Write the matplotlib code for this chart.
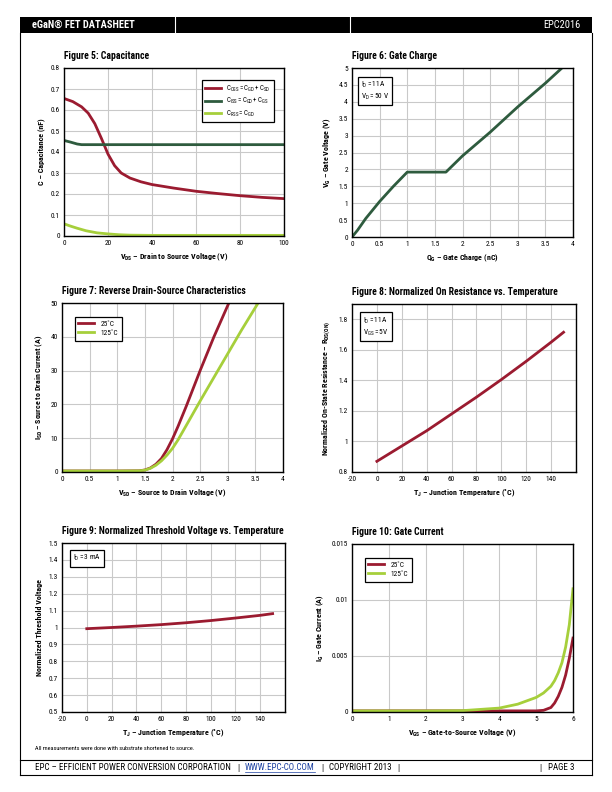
import matplotlib
matplotlib.use("Agg")
import matplotlib.pyplot as plt
from matplotlib import font_manager
from matplotlib.patches import Rectangle
from matplotlib.lines import Line2D

# pick a narrow font if there is one
installed = set(f.name for f in font_manager.fontManager.ttflist)
family = "DejaVu Sans"
for name in ["Liberation Sans Narrow", "DejaVu Sans Condensed", "Roboto Condensed", "Open Sans Condensed"]:
    if name in installed:
        family = name
        break
plt.rcParams['font.family'] = [family, "DejaVu Sans"]
plt.rcParams['mathtext.fontset'] = 'custom'
plt.rcParams['mathtext.rm'] = family
plt.rcParams['mathtext.it'] = family
plt.rcParams['mathtext.bf'] = family + ":bold"

RED = "#9b1b30"
GREEN = "#2e5b3e"
LIME = "#a6cf3b"
GRID = "#c9c9c9"

# Figure 5: Capacitance
vds = [0, 4, 8, 11, 14, 17, 20, 23, 26, 30, 35, 40, 50, 60, 70, 80, 90, 100]
coss = [0.655, 0.64, 0.615, 0.585, 0.535, 0.465, 0.39, 0.335, 0.3, 0.276, 0.258, 0.245, 0.228, 0.213, 0.202, 0.192, 0.184, 0.178]
vds_iss = [0, 3, 6, 8, 10, 20, 40, 60, 80, 100]
ciss = [0.455, 0.447, 0.438, 0.435, 0.435, 0.435, 0.435, 0.435, 0.435, 0.435]
vds_rss = [0, 3, 6, 10, 15, 20, 25, 30, 40, 60, 80, 100]
crss = [0.058, 0.047, 0.037, 0.025, 0.015, 0.01, 0.006, 0.004, 0.003, 0.003, 0.003, 0.003]

# Figure 6: Gate Charge
qg = [0, 0.1, 0.25, 0.5, 0.75, 1.0, 1.7, 2.0, 2.5, 3.0, 3.5, 3.8]
vg = [0, 0.2, 0.55, 1.05, 1.5, 1.92, 1.92, 2.4, 3.1, 3.85, 4.55, 5.0]

# Figure 7: Reverse Drain-Source Characteristics
vsd = [0, 0.5, 1.0, 1.4, 1.5, 1.6, 1.7, 1.8, 1.9, 2.0, 2.1, 2.25, 2.5, 2.75, 3.02]
isd_25 = [0.3, 0.3, 0.3, 0.35, 0.6, 1.2, 2.3, 4.0, 6.6, 9.8, 13.5, 19.5, 30, 40, 50]
vsd_125 = [0, 0.5, 1.0, 1.4, 1.5, 1.6, 1.7, 1.8, 1.9, 2.0, 2.1, 2.25, 2.5, 2.75, 3.0, 3.25, 3.55]
isd_125 = [0.3, 0.3, 0.3, 0.35, 0.55, 1.1, 2.0, 3.3, 5.0, 7.0, 9.5, 13.8, 21, 28, 35, 42, 50]

# Figure 8: Normalized On Resistance vs. Temperature
tj = [0, 20, 40, 60, 80, 100, 120, 140, 150]
rds = [0.87, 0.97, 1.07, 1.18, 1.29, 1.405, 1.525, 1.65, 1.715]

# Figure 9: Normalized Threshold Voltage vs. Temperature
vth = [0.993, 1.0, 1.008, 1.017, 1.028, 1.041, 1.056, 1.072, 1.082]

# Figure 10: Gate Current
vgs = [0, 1, 2, 3, 4, 4.5, 5.0, 5.2, 5.4, 5.5, 5.6, 5.7, 5.8, 5.9, 6.0]
ig_25 = [0.0001, 0.0001, 0.0001, 0.0001, 0.0001, 0.0001, 0.0001, 0.00015, 0.0004, 0.0008, 0.0014, 0.0022, 0.0033, 0.0048, 0.0066]
ig_125 = [0.0001, 0.0001, 0.0001, 0.00012, 0.00035, 0.0007, 0.0013, 0.0017, 0.0023, 0.0028, 0.0035, 0.0044, 0.0058, 0.0078, 0.011]

footer = ["EPC – EFFICIENT POWER CONVERSION CORPORATION", "|", "WWW.EPC-CO.COM", "|", "COPYRIGHT 2013", "|"]


def box(x0, y0, x1, y1):
    # page pixels -> figure fraction
    return [x0 / 612, 1 - y1 / 792, (x1 - x0) / 612, (y1 - y0) / 792]


def setup(ax, title, xlabel, ylabel, xlim, ylim, xticks, yticks, yfmt=None):
    ax.set_xlim(xlim)
    ax.set_ylim(ylim)
    ax.set_xticks(xticks)
    ax.set_yticks(yticks)
    if yfmt is not None:
        ax.set_yticklabels(yfmt)
    ax.set_xticklabels([("%g" % t) for t in xticks])
    ax.grid(True, color=GRID, lw=0.8)
    ax.set_axisbelow(True)
    ax.tick_params(labelsize=5.3, length=0, pad=3)
    for s in ax.spines.values():
        s.set_linewidth(1.0)
        s.set_color("black")
    ax.set_xlabel(xlabel, fontsize=5.8, fontweight="bold", labelpad=3)
    ax.set_ylabel(ylabel, fontsize=5.8, fontweight="bold", labelpad=4)
    ax.text(0.0, 1.04, title, transform=ax.transAxes, fontsize=7, fontweight="bold", ha="left", va="bottom")


def note(ax, text, x, y):
    ax.text(x, y, text, transform=ax.transAxes, fontsize=5.3, ha="left", va="top",
            bbox=dict(boxstyle="square,pad=0.45", fc="white", ec="black", lw=0.9), zorder=5)


def page_text(x, y, s, **kw):
    return fig.text(x / 612, 1 - y / 792, s, va="center", **kw)


fig = plt.figure(figsize=(6.12, 7.92), dpi=100)

# header bar
fig.patches.append(Rectangle((20 / 612, 1 - 33 / 792), 572 / 612, 16 / 792, transform=fig.transFigure, fc="black", ec="none"))
for x in [175, 350]:
    fig.add_artist(Line2D([x / 612, x / 612], [1 - 33 / 792, 1 - 17 / 792], color="white", lw=0.8))
page_text(32, 25, "eGaN® FET DATASHEET", color="white", fontsize=7.5, fontweight="bold")
page_text(580, 25, "EPC2016", color="white", fontsize=7.5, ha="right")

# page frame
for x in [20, 592]:
    fig.add_artist(Line2D([x / 612, x / 612], [1 - 775 / 792, 1 - 33 / 792], color="black", lw=0.8))
for y in [760, 775]:
    fig.add_artist(Line2D([20 / 612, 592 / 612], [1 - y / 792, 1 - y / 792], color="black", lw=0.8))

page_text(35, 749, "All measurements were done with substrate shortened to source.", fontsize=4.5)

# footer: lay the pieces one after another so they never collide
renderer = fig.canvas.get_renderer()
x = 35
for piece in footer:
    color = "#1a3fa0" if piece.startswith("WWW") else "black"
    t = page_text(x, 768, piece, fontsize=6.5, color=color)
    w = t.get_window_extent(renderer).width
    if piece.startswith("WWW"):
        fig.add_artist(Line2D([x / 612, (x + w) / 612], [1 - 772 / 792, 1 - 772 / 792], color=color, lw=0.5))
    x += w + 6
page_text(540, 768, "|", fontsize=6.5, ha="center")
page_text(575, 768, "PAGE 3", fontsize=6.5, ha="right")

lw = 2.0

# Figure 5
ax = fig.add_axes(box(64, 68, 284, 236))
ax.plot(vds, coss, color=RED, lw=lw, label=r"$\mathregular{C_{OSS} = C_{GD} + C_{SD}}$")
ax.plot(vds_iss, ciss, color=GREEN, lw=lw, label=r"$\mathregular{C_{ISS} = C_{GD} + C_{GS}}$")
ax.plot(vds_rss, crss, color=LIME, lw=lw, label=r"$\mathregular{C_{RSS} = C_{GD}}$")
setup(ax, "Figure 5: Capacitance", r"$\mathbf{V_{DS}}$ – Drain to Source Voltage (V)", "C – Capacitance (nF)",
      (0, 100), (0, 0.8), [0, 20, 40, 60, 80, 100], [i / 10 for i in range(9)],
      ["0", "0.1", "0.2", "0.3", "0.4", "0.5", "0.6", "0.7", "0.8"])
leg = ax.legend(loc="upper right", bbox_to_anchor=(0.97, 0.95), fontsize=5, fancybox=False, edgecolor="black",
                framealpha=1, handlelength=2.2, borderpad=0.5, labelspacing=0.35)
leg.get_frame().set_linewidth(0.9)

# Figure 6
ax = fig.add_axes(box(352, 68, 573, 237))
ax.plot(qg, vg, color=GREEN, lw=lw)
setup(ax, "Figure 6: Gate Charge", r"$\mathbf{Q_{G}}$ – Gate Charge (nC)", r"$\mathbf{V_{G}}$ – Gate Voltage (V)",
      (0, 4), (0, 5), [0, 0.5, 1, 1.5, 2, 2.5, 3, 3.5, 4], [0, 0.5, 1, 1.5, 2, 2.5, 3, 3.5, 4, 4.5, 5],
      ["0", "0.5", "1", "1.5", "2", "2.5", "3", "3.5", "4", "4.5", "5"])
note(ax, "$\\mathregular{I_D = 11A}$\n$\\mathregular{V_D = 50\\ V}$", 0.04, 0.93)

# Figure 7
ax = fig.add_axes(box(62, 303, 283, 472))
ax.plot(vsd, isd_25, color=RED, lw=lw, label="25˚C")
ax.plot(vsd_125, isd_125, color=LIME, lw=lw, label="125˚C")
setup(ax, "Figure 7: Reverse Drain-Source Characteristics", r"$\mathbf{V_{SD}}$ – Source to Drain Voltage (V)",
      r"$\mathbf{I_{SD}}$ – Source to Drain Current (A)",
      (0, 4), (0, 50), [0, 0.5, 1, 1.5, 2, 2.5, 3, 3.5, 4], [0, 10, 20, 30, 40, 50],
      ["0", "10", "20", "30", "40", "50"])
leg = ax.legend(loc="upper left", bbox_to_anchor=(0.04, 0.94), fontsize=5.3, fancybox=False, edgecolor="black",
                framealpha=1, handlelength=2.2, borderpad=0.5, labelspacing=0.3)
leg.get_frame().set_linewidth(0.9)

# Figure 8
ax = fig.add_axes(box(352, 304, 576, 472))
ax.plot(tj, rds, color=RED, lw=lw)
setup(ax, "Figure 8: Normalized On Resistance vs. Temperature", r"$\mathbf{T_{J}}$ – Junction Temperature (˚C)",
      r"Normalized On-State Resistance – $\mathbf{R_{DS(ON)}}$",
      (-20, 160), (0.8, 1.9), [-20, 0, 20, 40, 60, 80, 100, 120, 140, 160], [0.8, 1.0, 1.2, 1.4, 1.6, 1.8],
      ["0.8", "1", "1.2", "1.4", "1.6", "1.8"])
ax.set_xticklabels(["-20", "0", "20", "40", "60", "80", "100", "120", "140", ""])
note(ax, "$\\mathregular{I_D = 11A}$\n$\\mathregular{V_{GS} = 5V}$", 0.05, 0.93)

# Figure 9
ax = fig.add_axes(box(62, 543, 285, 712))
ax.plot(tj, vth, color=RED, lw=lw)
setup(ax, "Figure 9: Normalized Threshold Voltage vs. Temperature", r"$\mathbf{T_{J}}$ – Junction Temperature (˚C)",
      "Normalized Threshold Voltage",
      (-20, 160), (0.5, 1.5), [-20, 0, 20, 40, 60, 80, 100, 120, 140, 160], [0.5 + i / 10 for i in range(11)],
      ["0.5", "0.6", "0.7", "0.8", "0.9", "1", "1.1", "1.2", "1.3", "1.4", "1.5"])
ax.set_xticklabels(["-20", "0", "20", "40", "60", "80", "100", "120", "140", ""])
note(ax, "$\\mathregular{I_D = 3\\ mA}$", 0.05, 0.94)

# Figure 10
ax = fig.add_axes(box(352, 544, 573, 712))
ax.plot(vgs, ig_25, color=RED, lw=lw, label="25˚C")
ax.plot(vgs, ig_125, color=LIME, lw=lw, label="125˚C")
setup(ax, "Figure 10: Gate Current", r"$\mathbf{V_{GS}}$ – Gate-to-Source Voltage (V)", r"$\mathbf{I_{G}}$ – Gate Current (A)",
      (0, 6), (0, 0.015), [0, 1, 2, 3, 4, 5, 6], [0, 0.005, 0.01, 0.015],
      ["0", "0.005", "0.01", "0.015"])
leg = ax.legend(loc="upper left", bbox_to_anchor=(0.04, 0.94), fontsize=5.3, fancybox=False, edgecolor="black",
                framealpha=1, handlelength=2.2, borderpad=0.5, labelspacing=0.3)
leg.get_frame().set_linewidth(0.9)

fig.savefig("out.png", dpi=100)
